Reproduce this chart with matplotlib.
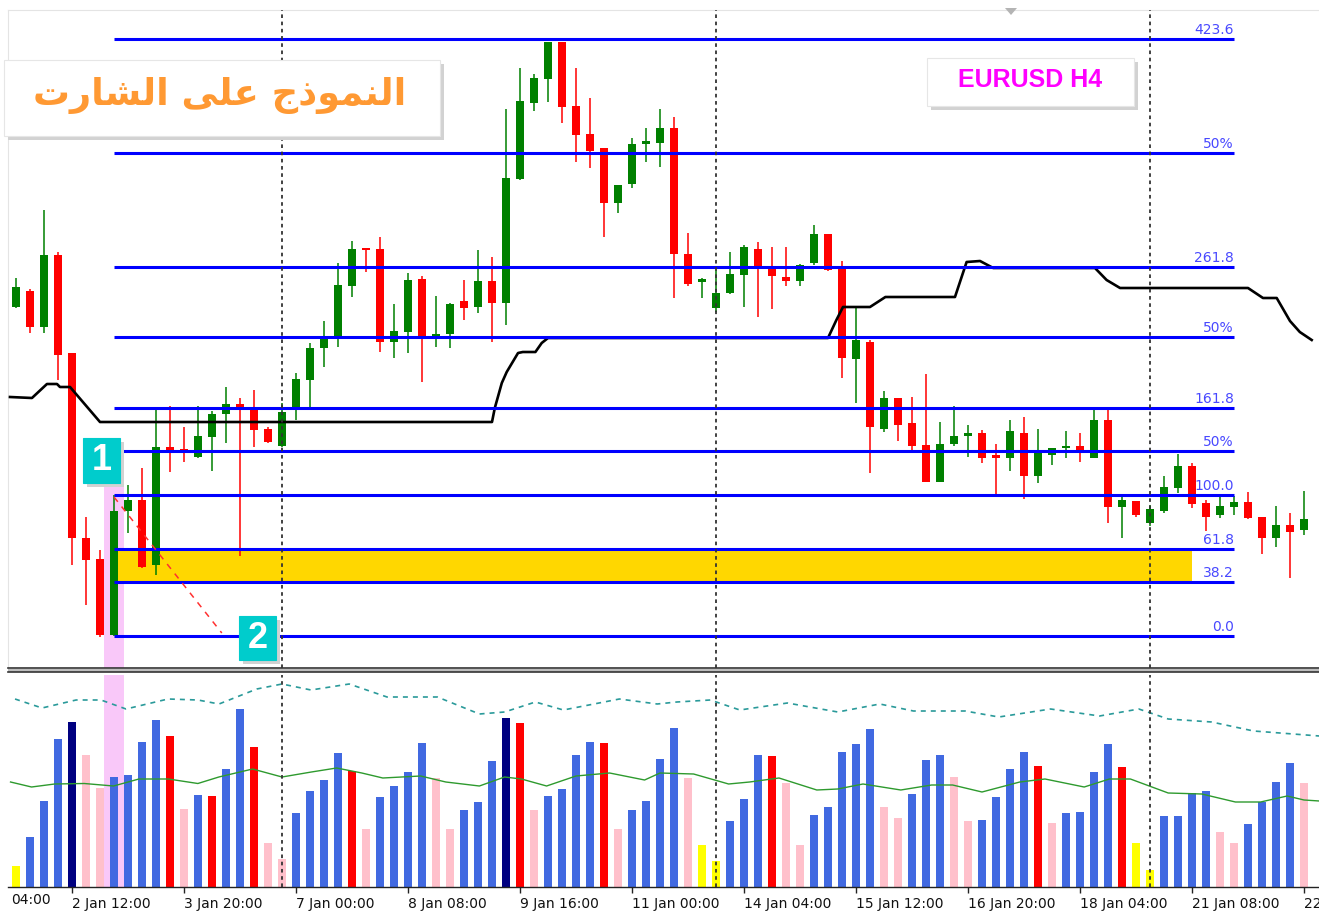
import matplotlib
matplotlib.use("Agg")
import matplotlib.pyplot as plt
import numpy as np
from matplotlib.patches import Rectangle, Polygon

# EURUSD H4 candles, prices in points (price * 10000)
open_pts = [13193, 13209, 13173, 13245, 13147, 12962, 12941, 12865, 12989, 13000,
            12935, 13053, 13051, 13043, 13063, 13086, 13096, 13090, 13071, 13054,
            13090, 13120, 13152, 13163, 13214, 13252, 13251, 13158, 13168, 13221,
            13163, 13166, 13199, 13193, 13219, 13197, 13321, 13397, 13421, 13458,
            13394, 13366, 13352, 13297, 13316, 13356, 13357, 13372, 13246, 13218,
            13192, 13207, 13225, 13251, 13233, 13223, 13219, 13237, 13266, 13233,
            13141, 13158, 13071, 13102, 13077, 13055, 13018, 13056, 13064, 13067,
            13043, 13042, 13067, 13024, 13045, 13052, 13054, 13042, 13080, 12993,
            12999, 12977, 12989, 13012, 13034, 12997, 12985, 12993, 12998, 12983,
            12962, 12975, 12970]
high_pts = [13222, 13211, 13290, 13248, 13147, 12983, 12950, 13005, 13015, 13032,
            13090, 13094, 13073, 13094, 13089, 13113, 13102, 13110, 13073, 13097,
            13127, 13157, 13179, 13237, 13259, 13252, 13263, 13196, 13227, 13224,
            13204, 13197, 13220, 13250, 13243, 13391, 13432, 13426, 13458, 13458,
            13432, 13402, 13352, 13315, 13362, 13372, 13391, 13383, 13267, 13222,
            13230, 13248, 13255, 13258, 13253, 13253, 13236, 13275, 13266, 13239,
            13193, 13160, 13109, 13102, 13103, 13126, 13078, 13094, 13075, 13070,
            13056, 13080, 13083, 13071, 13052, 13069, 13067, 13090, 13090, 13003,
            12999, 12995, 13024, 13046, 13037, 13000, 13004, 13004, 13008, 12983,
            12994, 12987, 13009]
low_pts = [13192, 13167, 13167, 13120, 12935, 12895, 12863, 12864, 12967, 12932,
           12925, 13028, 13038, 13042, 13029, 13057, 12944, 13053, 13057, 13053,
           13080, 13093, 13133, 13153, 13203, 13228, 13148, 13142, 13147, 13118,
           13153, 13152, 13180, 13187, 13158, 13175, 13320, 13389, 13398, 13377,
           13338, 13332, 13263, 13287, 13312, 13338, 13333, 13202, 13214, 13202,
           13188, 13206, 13193, 13183, 13191, 13214, 13214, 13235, 13229, 13122,
           13097, 13027, 13068, 13059, 13050, 13018, 13018, 13054, 13043, 13037,
           13003, 13029, 13001, 13017, 13035, 13042, 13038, 13042, 12977, 12962,
           12983, 12974, 12987, 13007, 12992, 12969, 12982, 12985, 12981, 12946,
           12953, 12922, 12965]
close_pts = [13213, 13173, 13245, 13145, 12962, 12940, 12865, 12989, 13000, 12933,
             13053, 13049, 13048, 13064, 13086, 13096, 13093, 13070, 13058, 13088,
             13121, 13152, 13161, 13215, 13251, 13250, 13158, 13169, 13220, 13164,
             13166, 13196, 13192, 13219, 13197, 13322, 13399, 13422, 13458, 13393,
             13365, 13349, 13297, 13315, 13356, 13359, 13372, 13246, 13216, 13221,
             13207, 13226, 13253, 13231, 13224, 13219, 13235, 13266, 13230, 13142,
             13160, 13073, 13102, 13075, 13054, 13018, 13056, 13064, 13065, 13042,
             13042, 13069, 13024, 13047, 13052, 13054, 13048, 13080, 12993, 13000,
             12985, 12991, 13013, 13034, 12996, 12983, 12994, 12998, 12982, 12962,
             12975, 12968, 12981]

# tick volume and its colour class (Y yellow, B blue, N navy, P pink, R red)
volume = [21, 50, 86, 148, 165, 132, 99, 110, 112, 145,
          167, 151, 78, 92, 91, 118, 178, 140, 44, 28,
          74, 96, 107, 134, 116, 58, 90, 101, 115, 144,
          109, 58, 77, 85, 126, 169, 164, 77, 91, 98,
          132, 145, 144, 58, 77, 86, 128, 159, 109, 42,
          26, 66, 88, 132, 131, 104, 42, 72, 80, 135,
          143, 158, 80, 69, 93, 127, 132, 110, 66, 67,
          90, 118, 135, 121, 64, 74, 75, 115, 143, 120,
          44, 17, 71, 71, 94, 96, 55, 44, 63, 85,
          105, 124, 104]
volume_class = ("YBBBNPPBBB" "BRPBRBBRPP" "BBBBRPBBBB" "PPBBBNRPBB" "BBRPBBBBPY"
                "YBBBRPPBBB" "BBPPBBBPPB" "BBBRPBBBBR" "YYBBBBPPBB" "BBP")

# price indicator (black line), breakpoints: bar index, points
trend_x = [-0.43, 1.14, 2.21, 2.93, 3.14, 3.86, 6.0, 34.0, 34.2, 34.7, 35.05, 35.86,
           36.2, 37.1, 37.55, 38.0, 58.0, 58.6, 59.07, 61.0, 62.1, 67.07, 67.9,
           68.86, 69.8, 77.07, 77.9, 78.86, 88.0, 89.07, 90.05, 91.0, 91.7, 92.55]
trend_y = [13103, 13102, 13116, 13116, 13113, 13113, 13078, 13078, 13092, 13117,
           13128, 13147, 13148, 13148, 13157, 13162, 13162, 13180, 13193, 13193,
           13203, 13203, 13238, 13239, 13232, 13232, 13220, 13212, 13212, 13202,
           13202, 13179, 13168, 13160]

# volume average (green) and upper band (teal dashed)
vma_x = [-0.39, 1.11, 2.76, 4.87, 6.97, 8.78, 10.88, 12.99, 14.49, 16.9, 19.0, 21.1,
         22.9, 24.7, 26.2, 28.9, 30.7, 33.1, 34.9, 36.1, 37.9, 40.0, 42.4, 44.9,
         46.0, 48.4, 50.9, 52.4, 54.5, 57.2, 58.7, 60.5, 63.2, 65.4, 66.9, 69.0,
         71.7, 73.5, 76.3, 78.1, 79.6, 82.3, 84.7, 87.1, 88.9, 90.8, 92.0, 93.1]
vma_y = [105, 100, 103, 103.5, 101, 108, 108, 103.5, 110, 118, 110, 115, 119, 114,
         109, 111, 105, 101, 110, 108, 101, 111, 114, 107, 114, 113, 103, 105, 109,
         97, 98, 103, 97, 102, 102, 95, 105, 108, 100, 108, 108, 94, 93, 85, 85,
         91, 87, 86]
vband_x = [-0.07, 1.86, 4.29, 6.07, 7.86, 10.86, 13.0, 14.5, 17.2, 19.0, 21.07, 23.8,
           26.5, 30.1, 33.1, 34.9, 37.1, 39.1, 43.1, 45.8, 47.2, 49.6, 51.7, 55.1,
           58.7, 61.7, 64.1, 67.8, 70.2, 73.9, 77.4, 80.2, 82.3, 85.4, 88.4, 93.1]
vband_y = [188, 179, 187, 187, 178, 188, 187, 183, 198, 203, 197, 203, 190, 190, 173,
           175, 185, 177, 188, 183, 185, 187, 177, 184, 175, 183, 176, 176, 170, 178,
           171, 178, 168, 165, 156, 151]

# fibonacci drawn on the signal bar
fib_bar = 7
fib_end = 87
zone_end = 84
fib_low = 12864
fib_high = 13005
fib_ratios = [0.0, 38.2, 61.8, 100.0, 161.8, 261.8, 423.6]
fib_labels = ["0.0", "38.2", "61.8", "100.0", "161.8", "261.8", "423.6"]
mid_pairs = [(100.0, 161.8), (161.8, 261.8), (261.8, 423.6)]
arrow_x = [7.0, 14.7]
arrow_y = [13003, 12867]

period_lines = [19, 50, 81]
tick_idx = [4, 12, 20, 28, 36, 44, 52, 60, 68, 76, 84, 92]
tick_labels = ["2 Jan 12:00", "3 Jan 20:00", "7 Jan 00:00", "8 Jan 08:00",
               "9 Jan 16:00", "11 Jan 00:00", "14 Jan 04:00", "15 Jan 12:00",
               "16 Jan 20:00", "18 Jan 04:00", "21 Jan 08:00", "22 Jan 16:00"]
first_label = "04:00"

# Arabic title, shaped by hand (presentation forms, visual order)
title_logical = "النموذج على الشارت"
title_visual = ("\uFE95\uFEAD\uFE8E\uFEB8\uFEDF\uFE8D \uFEF0\uFEE0\uFECB "
                "\uFE9D\uFEAB\uFEEE\uFEE4\uFEE8\uFEDF\uFE8D")

VOL_COLORS = {"Y": "#FFFF00", "B": "#4169E1", "N": "#000080",
              "P": "#FFC0CB", "R": "#FF0000"}
BULL = "#008000"
BEAR = "#FF0000"
FIB_BLUE = "#0000FF"

W, H = 1319, 914


def to_price(pts):
    return np.asarray(pts, dtype=float) / 10000.0


def main() -> None:
    fig = plt.figure(figsize=(W / 100, H / 100), dpi=100)
    fig.patch.set_facecolor("white")

    xlim = (-8 / 14, 1303 / 14)
    ax = fig.add_axes([8 / W, 1 - 668 / H, 1311 / W, 658 / H])
    axv = fig.add_axes([8 / W, 1 - 887 / H, 1311 / W, 212 / H])

    o, hi, lo, c = (to_price(a) for a in (open_pts, high_pts, low_pts, close_pts))
    x = np.arange(len(o))

    # main chart
    ax.set_xlim(*xlim)
    ax.set_ylim(1.2832, 1.3490)
    for side in ("right", "bottom"):
        ax.spines[side].set_visible(False)
    for side in ("top", "left"):
        ax.spines[side].set_color("#e4e4e4")
    ax.set_xticks([])
    ax.set_yticks([])

    # pink highlight of the signal bar
    ybot = ax.get_ylim()[0]
    ax.add_patch(Rectangle((fib_bar - 0.72, ybot), 1.44, 1.3013 - ybot,
                           color="#F9C8F9", lw=0, zorder=0.5))

    def fib_price(r):
        return to_price(fib_low + (fib_high - fib_low) * r / 100.0)

    ax.add_patch(Rectangle((fib_bar, fib_price(38.2)), zone_end - fib_bar,
                           fib_price(61.8) - fib_price(38.2),
                           color="#FFD700", lw=0, zorder=1))

    up = c >= o
    colors = np.where(up, BULL, BEAR)
    ax.vlines(x, lo, hi, colors=colors, lw=1.1, zorder=2)
    body = np.maximum(np.abs(c - o), 0.00025)
    ax.bar(x, body, bottom=np.minimum(o, c), width=0.6, color=colors, lw=0, zorder=2.1)

    ax.plot(trend_x, to_price(trend_y), color="black", lw=1.9, zorder=3,
            solid_joinstyle="round")

    levels = list(zip(fib_ratios, fib_labels))
    for a, b in mid_pairs:
        levels.append(((a + b) / 2, "50%"))
    for r, lab in levels:
        p = fib_price(r)
        ax.hlines(p, fib_bar, fib_end, color=FIB_BLUE, lw=2.2, zorder=4)
        ax.annotate(lab, (fib_end, p), xytext=(0, 1.5), textcoords="offset points",
                    ha="right", va="bottom", fontsize=10, color="#4848FF", zorder=4)

    ax.plot(arrow_x, to_price(arrow_y), color="#FF3030", lw=1.1,
            linestyle=(0, (4, 4)), zorder=4.5)

    for xi in period_lines:
        ax.axvline(xi, color="#333333", lw=1.3, linestyle=(0, (2, 2)), zorder=5)

    # volume window
    axv.set_xlim(*xlim)
    axv.set_ylim(0, 212)
    axv.axvspan(fib_bar - 0.72, fib_bar + 0.72, color="#F9C8F9", lw=0, zorder=0.5)
    vcol = [VOL_COLORS[k] for k in volume_class]
    axv.bar(x, volume, width=0.6, color=vcol, lw=0, zorder=2)
    axv.plot(vma_x, vma_y, color="#2E9A2E", lw=1.0, zorder=3)
    axv.plot(vband_x, vband_y, color="#2A9A9A", lw=1.2, linestyle=(0, (3, 3)), zorder=3)
    for xi in period_lines:
        axv.axvline(xi, color="#333333", lw=1.3, linestyle=(0, (2, 2)), zorder=5)

    for side in ("top", "right", "left"):
        axv.spines[side].set_visible(False)
    axv.spines["bottom"].set_color("#222222")
    axv.spines["bottom"].set_linewidth(1.0)
    axv.set_yticks([])
    axv.set_xticks(tick_idx)
    axv.set_xticklabels(tick_labels, ha="left", fontsize=10, color="#111111")
    axv.tick_params(axis="x", direction="out", length=4, width=1, pad=3,
                    color="#222222")
    axv.text(-0.35, -0.03, first_label, transform=axv.get_xaxis_transform(),
             ha="left", va="top", fontsize=10, color="#111111")

    # overlay in pixel space for separator and labels
    ov = fig.add_axes([0, 0, 1, 1], zorder=10)
    ov.set_xlim(0, W)
    ov.set_ylim(H, 0)
    ov.axis("off")
    ov.patch.set_alpha(0)

    ov.plot([8, W], [668, 668], color="#333333", lw=1.2)
    ov.plot([8, W], [672, 672], color="#333333", lw=1.2)
    ov.add_patch(Rectangle((8, 668.5), W - 8, 3, color="#bdbdbd", lw=0))

    ov.add_patch(Polygon([(1005, 8), (1017, 8), (1011, 15)], closed=True,
                         color="#b4b4b4", lw=0))

    def box(x0, y0, w, h, face, edge, shadow=4):
        ov.add_patch(Rectangle((x0 + shadow, y0 + shadow), w, h, color="#d2d2d2", lw=0))
        ov.add_patch(Rectangle((x0, y0), w, h, facecolor=face, edgecolor=edge, lw=0.8))

    box(4, 60, 436, 76, "white", "#e6e6e6")
    ov.text(220, 96, title_visual, ha="center", va="center", fontsize=26.5,
            fontweight="bold", color="#FF9933", family=["DejaVu Sans"])

    box(927, 58, 207, 48, "white", "#e6e6e6")
    ov.text(1030, 80, "EURUSD H4", ha="center", va="center", fontsize=18,
            fontweight="bold", color="#FF00FF", family=["Liberation Sans", "DejaVu Sans"])

    box(83, 438, 37, 45, "#00CCCC", "#00CCCC")
    ov.text(101.5, 461, "1", ha="center", va="center", fontsize=26,
            fontweight="bold", color="white", family=["Liberation Sans", "DejaVu Sans"])
    box(239, 616, 37, 44, "#00CCCC", "#00CCCC")
    ov.text(257.5, 639, "2", ha="center", va="center", fontsize=26,
            fontweight="bold", color="white", family=["Liberation Sans", "DejaVu Sans"])

    fig.savefig("out.png", dpi=100)


if __name__ == "__main__":
    main()
